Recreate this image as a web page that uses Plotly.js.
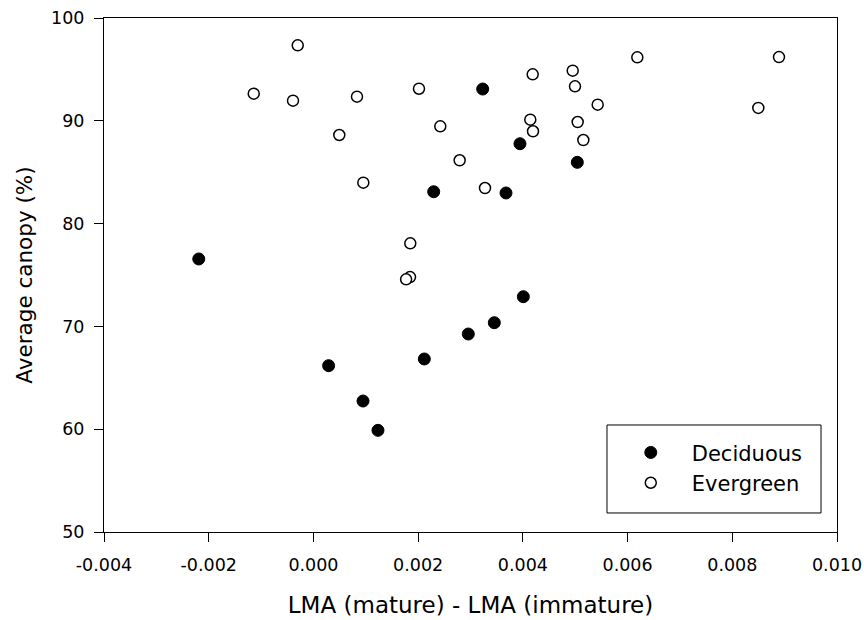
<!DOCTYPE html>
<html>
<head>
<meta charset="utf-8">
<script src="https://cdn.plot.ly/plotly-3.0.1.min.js"></script>
<style>html,body{margin:0;padding:0;background:#fff;}#chart{width:864px;height:620px;}</style>
</head>
<body>
<div id="chart"></div>
<script>
// Deciduous species
const decidX = [-0.00219, 0.00029, 0.000947, 0.001233, 0.002118, 0.002958, 0.003455, 0.004009, 0.002297, 0.003233, 0.003678, 0.003945, 0.00504];
const decidY = [76.56, 66.18, 62.74, 59.89, 66.83, 69.26, 70.36, 72.89, 83.10, 93.09, 82.98, 87.77, 85.96];
// Evergreen species
const everX = [-0.0003, -0.00114, -0.00039, 0.000832, 0.002016, 0.002423, 0.000494, 0.002793, 0.000953, 0.00185, 0.001845, 0.00177,
               0.004188, 0.004952, 0.004996, 0.006186, 0.008892, 0.005429, 0.008497, 0.004142, 0.004194, 0.005047, 0.005155, 0.003277];
const everY = [97.34, 92.64, 91.96, 92.35, 93.12, 89.46, 88.62, 86.16, 83.98, 78.08, 74.80, 74.58,
               94.52, 94.88, 93.35, 96.17, 96.20, 91.57, 91.25, 90.11, 88.98, 89.88, 88.13, 83.46];
// Tick labels
const xTickVals = [-0.004, -0.002, 0.000, 0.002, 0.004, 0.006, 0.008, 0.010];
const xTickText = ['-0.004', '-0.002', '0.000', '0.002', '0.004', '0.006', '0.008', '0.010'];
const yTickVals = [50, 60, 70, 80, 90, 100];
const yTickText = ['50', '60', '70', '80', '90', '100'];

const FONT = 'DejaVu Sans, Liberation Sans, Arial, sans-serif';

const traces = [
  {
    x: decidX, y: decidY, type: 'scatter', mode: 'markers', name: 'Deciduous',
    marker: {symbol: 'circle', size: 12, color: '#000000', line: {color: '#000000', width: 1}}
  },
  {
    x: everX, y: everY, type: 'scatter', mode: 'markers', name: 'Evergreen',
    marker: {symbol: 'circle', size: 11, color: '#ffffff', line: {color: '#000000', width: 1.5}}
  }
];

const layout = {
  width: 864, height: 620,
  margin: {l: 104, r: 27, t: 18, b: 88, pad: 0},
  paper_bgcolor: '#ffffff', plot_bgcolor: '#ffffff',
  font: {family: FONT, color: '#000000', size: 17.5},
  showlegend: true,
  legend: {
    x: 0.690, y: 0.194, xanchor: 'left', yanchor: 'top',
    bgcolor: 'rgba(0,0,0,0)', borderwidth: 0,
    font: {family: FONT, size: 21, color: '#000000'},
    itemwidth: 72
  },
  shapes: [{
    type: 'rect', xref: 'paper', yref: 'paper',
    x0: 0.6862, x1: 0.9782, y0: 0.037, y1: 0.2082,
    line: {color: '#000000', width: 1}, fillcolor: 'rgba(0,0,0,0)', layer: 'above'
  }],
  xaxis: {
    range: [-0.004, 0.010], tickmode: 'array', tickvals: xTickVals, ticktext: xTickText,
    ticks: 'outside', ticklen: 9, tickwidth: 1, tickcolor: '#000000',
    showline: true, linecolor: '#000000', linewidth: 1, mirror: true,
    showgrid: false, zeroline: false, ticklabelstandoff: 8,
    tickfont: {family: FONT, size: 17.5, color: '#000000'},
    title: {text: 'LMA (mature) - LMA (immature)', font: {family: FONT, size: 23, color: '#000000'}, standoff: 22},
    automargin: false
  },
  yaxis: {
    range: [50, 100], tickmode: 'array', tickvals: yTickVals, ticktext: yTickText,
    ticks: 'outside', ticklen: 9, tickwidth: 1, tickcolor: '#000000',
    showline: true, linecolor: '#000000', linewidth: 1, mirror: true,
    showgrid: false, zeroline: false, ticklabelstandoff: 6,
    tickfont: {family: FONT, size: 17.5, color: '#000000'},
    title: {text: 'Average canopy (%)', font: {family: FONT, size: 21.5, color: '#000000'}, standoff: 12},
    automargin: false
  }
};

Plotly.newPlot('chart', traces, layout, {displayModeBar: false, staticPlot: true});
</script>
</body>
</html>
